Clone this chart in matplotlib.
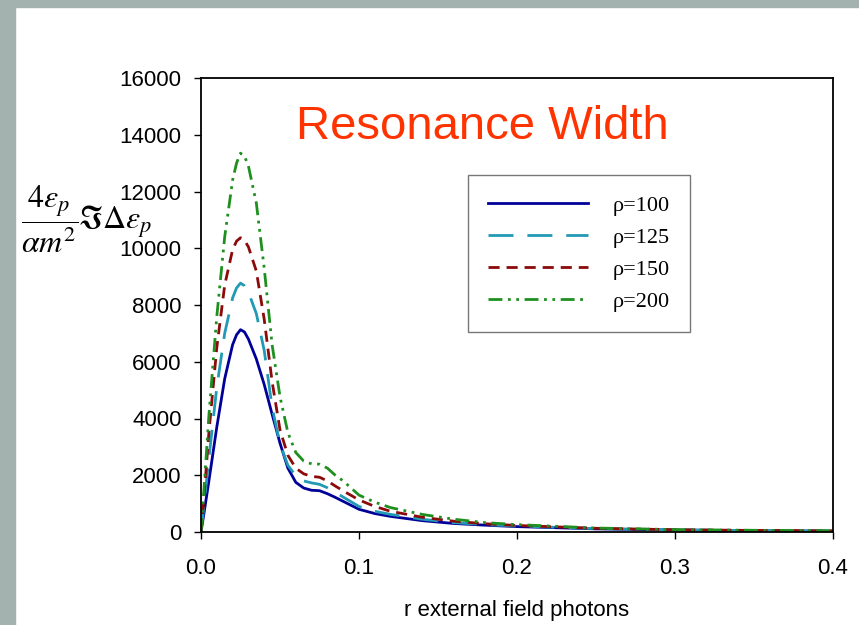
import numpy as np
import matplotlib.pyplot as plt
from matplotlib.patches import Rectangle

# dados
r = [0, 0.002, 0.005, 0.01, 0.015, 0.02, 0.0225, 0.025, 0.0275, 0.03, 0.035,
     0.04, 0.045, 0.05, 0.055, 0.06, 0.065, 0.07, 0.075, 0.08, 0.085, 0.09,
     0.1, 0.11, 0.12, 0.14, 0.16, 0.18, 0.2, 0.25, 0.3, 0.35, 0.4]

rho100 = [0, 700, 1800, 3700, 5400, 6600, 6950, 7130, 7050, 6800, 6100,
          5200, 4150, 3130, 2250, 1750, 1550, 1470, 1456, 1350, 1220, 1080,
          800, 650, 550, 400, 300, 240, 190, 110, 70, 45, 30]
rho125 = [0, 1000, 2600, 5100, 7000, 8250, 8600, 8770, 8680, 8450, 7700,
          6400, 4400, 3100, 2350, 1980, 1800, 1730, 1680, 1560, 1400, 1230,
          900, 730, 620, 450, 330, 260, 210, 120, 75, 50, 35]
rho150 = [0, 1300, 3500, 6500, 8700, 9950, 10250, 10370, 10280, 10050, 9200,
          7500, 5300, 3600, 2700, 2250, 2050, 1960, 1930, 1800, 1620, 1450,
          1130, 900, 730, 520, 380, 290, 230, 130, 80, 55, 40]
rho200 = [0, 1600, 4100, 7600, 10400, 12400, 13000, 13350, 13250, 12900, 11600,
          9300, 6600, 4770, 3500, 2800, 2500, 2400, 2390, 2250, 2000, 1800,
          1300, 1050, 860, 620, 450, 330, 260, 140, 85, 60, 45]

labels = ["ρ=100", "ρ=125", "ρ=150", "ρ=200"]
xticks = [0.0, 0.1, 0.2, 0.3, 0.4]
yticks = [0, 2000, 4000, 6000, 8000, 10000, 12000, 14000, 16000]

plt.rcParams["mathtext.fontset"] = "stix"
plt.rc('font', family='Liberation Sans')

fig = plt.figure(figsize=(8.59, 6.25), dpi=100)
fig.patch.set_facecolor('white')
W, H = 859, 625

# faixas cinzas do slide
fig.patches.append(Rectangle((0, 0), 15 / W, 1, transform=fig.transFigure,
                             color='#a3b2ae', zorder=0))
fig.patches.append(Rectangle((0, 1 - 7 / H), 1, 7 / H, transform=fig.transFigure,
                             color='#a3b2ae', zorder=0))

ax = fig.add_axes([201 / W, 1 - 532 / H, (833 - 201) / W, (532 - 78) / H])

ax.plot(r, rho100, color='#000099', lw=2, label=labels[0])
ax.plot(r, rho125, color='#2299b5', lw=2, dashes=(9, 5), label=labels[1])
ax.plot(r, rho150, color='#8b0a0a', lw=2, dashes=(4, 2.5), label=labels[2])
ax.plot(r, rho200, color='#1f8f1f', lw=2, dashes=(5, 2, 1, 2, 1, 2), label=labels[3])

ax.set_xlim(0, 0.4)
ax.set_ylim(0, 16000)
ax.set_xticks(xticks)
ax.set_xticklabels(["%.1f" % v for v in xticks])
ax.set_yticks(yticks)
ax.tick_params(direction='out', length=5, width=1, labelsize=16)
ax.tick_params(axis='y', pad=9)
ax.tick_params(axis='x', pad=14)
for s in ax.spines.values():
    s.set_linewidth(1.3)

ax.set_xlabel("r external field photons", fontsize=16, labelpad=15)

# rotulo do eixo y: fracao + resto, separados p/ nao cobrir os ticks
fig.text(78 / W, 1 - 219 / H, r"$\dfrac{4\varepsilon_p}{\alpha m^2}$",
         fontsize=23, va='center', ha='right')
fig.text(78 / W, 1 - 222 / H, r"$\Im\Delta\varepsilon_p$",
         fontsize=23, va='center', ha='left')

ax.text(0.445, 0.893, "Resonance Width", transform=ax.transAxes,
        fontsize=34, color='#ff3300', ha='center', va='center')

leg = ax.legend(loc='upper left', bbox_to_anchor=((468 - 201) / 632, 1 - (175 - 78) / 454),
                borderaxespad=0, frameon=True, fancybox=False, edgecolor='#555555',
                fontsize=16, handlelength=4.5, handletextpad=1.1, borderpad=0.9,
                labelspacing=0.52)
leg.get_frame().set_linewidth(1.0)
for t in leg.get_texts():
    t.set_fontfamily('Liberation Serif')

plt.savefig("out.png", dpi=100)
plt.close()
